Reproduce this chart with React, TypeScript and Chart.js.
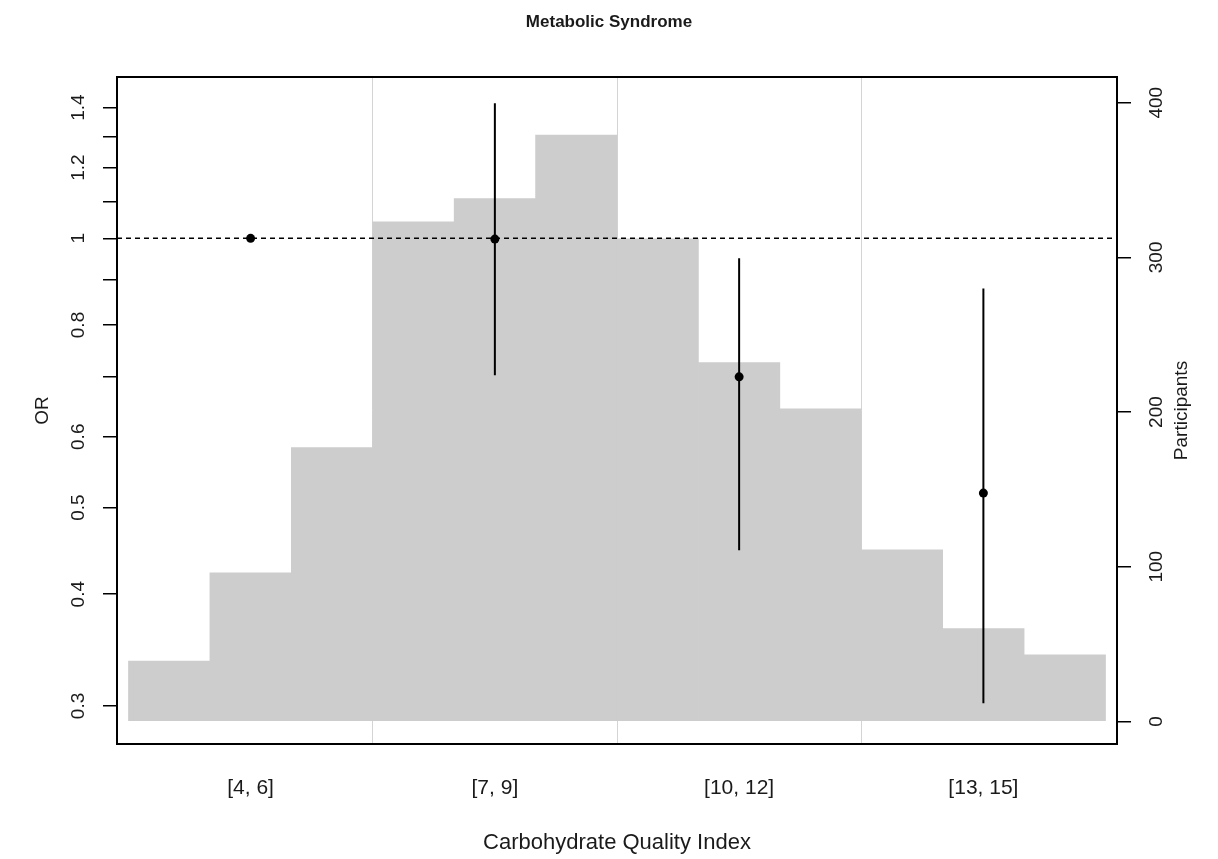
import React, { useEffect, useRef } from "react";
import { Chart, registerables } from "chart.js";

Chart.register(...registerables);

// ---- data ----
const categories = ["[4, 6]", "[7, 9]", "[10, 12]", "[13, 15]"];
const orEstimate = [1.0, 0.998, 0.7, 0.519];
const ciLower: (number | null)[] = [null, 0.703, 0.448, 0.302];
const ciUpper: (number | null)[] = [null, 1.416, 0.95, 0.879];
const cqiValues = [4, 5, 6, 7, 8, 9, 10, 11, 12, 13, 14, 15];
const participants = [39, 96, 177, 323, 338, 379, 312, 232, 202, 111, 60, 43];
const orTicks = [0.3, 0.4, 0.5, 0.6, 0.7, 0.8, 0.9, 1, 1.1, 1.2, 1.3, 1.4];
const orTickLabels = ["0.3", "0.4", "0.5", "0.6", "", "0.8", "", "1", "", "1.2", "", "1.4"];
const participantTicks = [0, 100, 200, 300, 400];
const referenceOR = 1;

// axis ranges
const X_MIN = 0.453;
const X_MAX = 4.547;
const OR_MIN = 0.272;
const OR_MAX = 1.515;
const P_MIN = -14.6;
const P_MAX = 416.6;

const FONT = '"Liberation Sans", Arial, sans-serif';
const TEXT = "#1a1a1a";

// CQI value -> position on category axis (3 values per category)
const binPos = (v: number) => 1 + (v - 5) / 3;

export default function App() {
  const canvasRef = useRef<HTMLCanvasElement | null>(null);

  useEffect(() => {
    const canvas = canvasRef.current;
    if (!canvas) return;

    const boxPlugin = {
      id: "boxAndRightTitle",
      afterDatasetsDraw(chart: any) {
        const { ctx, chartArea } = chart;
        ctx.save();
        ctx.strokeStyle = "#000";
        ctx.lineWidth = 2;
        ctx.strokeRect(
          chartArea.left,
          chartArea.top,
          chartArea.right - chartArea.left,
          chartArea.bottom - chartArea.top
        );
        ctx.restore();
      },
      afterDraw(chart: any) {
        const { ctx, chartArea } = chart;
        ctx.save();
        ctx.translate(1182, (chartArea.top + chartArea.bottom) / 2);
        ctx.rotate(-Math.PI / 2);
        ctx.textAlign = "center";
        ctx.textBaseline = "middle";
        ctx.fillStyle = TEXT;
        ctx.font = `19px ${FONT}`;
        ctx.fillText("Participants", 0, 0);
        ctx.restore();
      },
    };

    const ciDatasets = categories
      .map((_, i) =>
        ciLower[i] == null
          ? null
          : {
              type: "line" as const,
              label: "ci" + i,
              data: [
                { x: i + 1, y: ciLower[i] },
                { x: i + 1, y: ciUpper[i] },
              ],
              borderColor: "#000",
              borderWidth: 2,
              pointRadius: 0,
              xAxisID: "x",
              yAxisID: "y",
              order: 2,
            }
      )
      .filter(Boolean);

    const chart = new Chart(canvas, {
      type: "bar",
      data: {
        datasets: [
          {
            type: "scatter" as const,
            label: "OR",
            data: orEstimate.map((v, i) => ({ x: i + 1, y: v })),
            backgroundColor: "#000",
            borderColor: "#000",
            borderWidth: 0,
            pointRadius: 4.5,
            xAxisID: "x",
            yAxisID: "y",
            order: 1,
          },
          ...(ciDatasets as any[]),
          {
            type: "line" as const,
            label: "ref",
            data: [
              { x: X_MIN, y: referenceOR },
              { x: X_MAX, y: referenceOR },
            ],
            borderColor: "#000",
            borderWidth: 1.5,
            borderDash: [5, 4],
            pointRadius: 0,
            xAxisID: "x",
            yAxisID: "y",
            order: 5,
          },
          {
            type: "bar" as const,
            label: "Participants",
            data: participants.map((p, i) => ({ x: binPos(cqiValues[i]), y: p })),
            backgroundColor: "#cdcdcd",
            borderWidth: 0,
            barPercentage: 1,
            categoryPercentage: 1,
            grouped: false,
            xAxisID: "x",
            yAxisID: "y1",
            order: 10,
          },
        ] as any,
      },
      options: {
        responsive: false,
        animation: false,
        events: [],
        layout: { padding: 0, autoPadding: false },
        plugins: {
          legend: { display: false },
          tooltip: { enabled: false },
          title: {
            display: true,
            text: "Metabolic Syndrome",
            color: TEXT,
            font: { family: FONT, size: 17, weight: "bold", lineHeight: 1.2 },
            padding: { top: 11.8, bottom: 44.8 },
          },
        },
        scales: {
          x: {
            type: "linear",
            position: "bottom",
            offset: false,
            min: X_MIN,
            max: X_MAX,
            afterBuildTicks: (scale: any) => {
              scale.ticks = [1, 1.5, 2, 2.5, 3, 3.5, 4].map((value) => ({ value }));
            },
            afterFit: (scale: any) => {
              scale.height = 115;
            },
            ticks: {
              autoSkip: false,
              maxRotation: 0,
              minRotation: 0,
              padding: 32,
              color: TEXT,
              font: { family: FONT, size: 21 },
              callback: (value: any) =>
                Number.isInteger(value) ? categories[value - 1] : "",
            },
            grid: {
              offset: false,
              drawTicks: false,
              color: (ctx: any) =>
                ctx.tick && !Number.isInteger(ctx.tick.value) ? "#d4d4d4" : "rgba(0,0,0,0)",
              lineWidth: 1,
            },
            border: { display: false },
            title: {
              display: true,
              text: "Carbohydrate Quality Index",
              color: TEXT,
              font: { family: FONT, size: 22, lineHeight: 1.2 },
              padding: { top: 0, bottom: 3 },
            },
          },
          y: {
            type: "logarithmic",
            position: "left",
            min: OR_MIN,
            max: OR_MAX,
            afterBuildTicks: (scale: any) => {
              scale.ticks = orTicks.map((value) => ({ value }));
            },
            afterFit: (scale: any) => {
              scale.width = 117;
            },
            ticks: {
              autoSkip: false,
              minRotation: 90,
              maxRotation: 90,
              crossAlign: "center",
              padding: 11,
              color: TEXT,
              font: { family: FONT, size: 19 },
              callback: (_v: any, index: number) => orTickLabels[index],
            },
            grid: {
              drawOnChartArea: false,
              drawTicks: true,
              tickLength: 14,
              color: "#000",
              lineWidth: 1.5,
            },
            border: { display: false },
            title: {
              display: true,
              text: "OR",
              color: TEXT,
              font: { family: FONT, size: 19, lineHeight: 1.2 },
              padding: { top: 31, bottom: 0 },
            },
          },
          y1: {
            type: "linear",
            position: "right",
            min: P_MIN,
            max: P_MAX,
            afterBuildTicks: (scale: any) => {
              scale.ticks = participantTicks.map((value) => ({ value }));
            },
            afterFit: (scale: any) => {
              scale.width = 101;
            },
            ticks: {
              autoSkip: false,
              minRotation: 90,
              maxRotation: 90,
              crossAlign: "center",
              padding: 10,
              color: TEXT,
              font: { family: FONT, size: 19 },
              callback: (v: any) => String(v),
            },
            grid: {
              drawOnChartArea: false,
              drawTicks: true,
              tickLength: 14,
              color: "#000",
              lineWidth: 1.5,
            },
            border: { display: false },
          },
        },
      } as any,
      plugins: [boxPlugin],
    });

    return () => chart.destroy();
  }, []);

  return (
    <div
      style={{
        position: "absolute",
        left: 0,
        top: 0,
        width: 1218,
        height: 859,
        background: "#fff",
      }}
    >
      <canvas ref={canvasRef} width={1218} height={859} />
    </div>
  );
}
